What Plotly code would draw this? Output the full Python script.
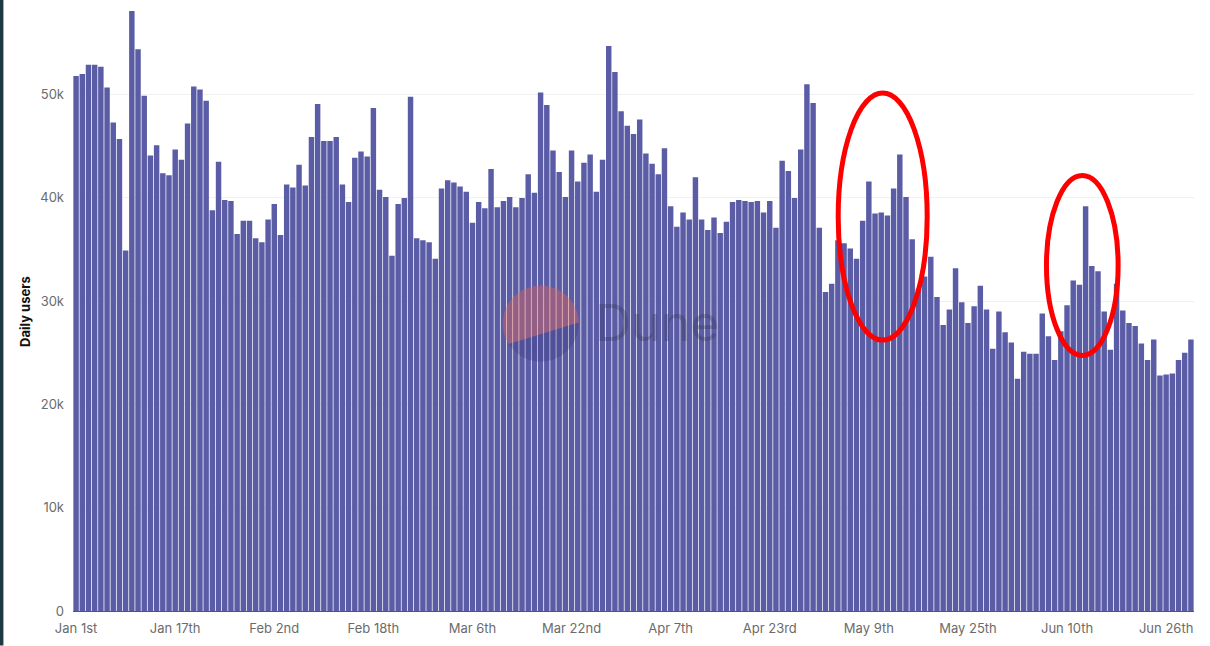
import numpy as np
import pandas as pd
import plotly.graph_objects as go

# ---------------- data ----------------
start_date = "2022-01-01"
daily_users = [
    51800, 52000, 52900, 52900, 52700, 50700, 47300, 45700, 34900, 58100,
    54400, 49900, 44100, 45100, 42400, 42200, 44700, 43700, 47200, 50800,
    50500, 49400, 38800, 43500, 39800, 39700, 36500, 37800, 37800,
    36100, 35700, 37900, 39400, 36400, 41300, 41000, 43200, 41200, 45900,
    49100, 45500, 45500, 45900, 41300, 39600, 43900, 44500, 44000, 48700,
    40800, 40100, 34400, 39400, 40000, 49800, 36100, 35900, 35700, 34100,
    40900, 41700, 41500, 41100, 40600, 37600, 39600, 39000, 42800, 39100,
    39700, 40100, 39100, 40000, 42300, 40500, 50200, 49000, 44600, 42500,
    40100, 44600, 41600, 43400, 44200, 40600, 43700, 54700, 52200, 48400,
    47000, 46200, 47600, 44300, 43300, 42300, 44800, 39200, 37200, 38600,
    37900, 42000, 37900, 36900, 38100, 36600, 37700, 39600, 39800, 39700,
    39600, 39700, 38600, 39700, 37100, 43600, 42600, 40000, 44700, 51000,
    49200, 37100, 30900, 31700, 35900, 35600, 35100, 34100, 37800, 41600,
    38500, 38600, 38300, 40900, 44200, 40100, 36000, 31200, 32400, 34300,
    30400, 27700, 29200, 33200, 29900, 27900, 29500, 31500, 29200,
    25400, 29000, 27000, 26000, 22500, 25100, 24900, 24900, 28800, 26600,
    24300, 27100, 29600, 32000, 31600, 39200, 33400, 32900, 29000, 25300,
    31700, 29100, 27900, 27600, 25900, 24300, 26300, 22800, 22900, 23000,
    24300, 25000, 26300,
]
dates = pd.date_range(start_date, periods=len(daily_users), freq="D")

x_tick_dates = ["2022-01-01", "2022-01-17", "2022-02-02", "2022-02-18",
                "2022-03-06", "2022-03-22", "2022-04-07", "2022-04-23",
                "2022-05-09", "2022-05-25", "2022-06-10", "2022-06-26"]
x_tick_labels = ["Jan 1st", "Jan 17th", "Feb 2nd", "Feb 18th", "Mar 6th",
                 "Mar 22nd", "Apr 7th", "Apr 23rd", "May 9th", "May 25th",
                 "Jun 10th", "Jun 26th"]
y_tick_vals = [0, 10000, 20000, 30000, 40000, 50000]
y_tick_labels = ["0", "10k", "20k", "30k", "40k", "50k"]

# highlight ellipses: (start day offset, end day offset, y low, y high)
highlights = [(123.05, 137.42, 26230, 50150), (156.68, 168.25, 24750, 42180)]

# ---------------- styling ----------------
W, H = 1210, 646
PL, PR, PT, PB = 73.1, 1194.4, 11.3, 611.5   # plot area in pixels
pw, ph = PR - PL, PB - PT
FONT = "Inter, 'Noto Sans', sans-serif"
BAR = "#5b5ca6"

def px2paper(x, y):
    return (x - PL) / pw, (PB - y) / ph

fig = go.Figure(go.Bar(x=dates, y=daily_users, marker=dict(color=BAR, line=dict(width=0)),
                       hoverinfo="x+y"))

shapes = []
# left dark strip
x0p, _ = px2paper(0, 0)
x1p, _ = px2paper(3.5, 0)
shapes.append(dict(type="rect", xref="paper", yref="paper", x0=x0p, x1=x1p,
                   y0=(PB - H) / ph, y1=PB / ph, fillcolor="#1d3a42", line=dict(width=0),
                   layer="above"))

# watermark logo (two halves of a circle)
cx, cy, r = 541, 324, 38
def arc_path(a0, a1):
    t = np.radians(np.linspace(a0, a1, 60))
    pts = [px2paper(cx + r * np.cos(a), cy + r * np.sin(a)) for a in t]
    return "M " + " L ".join(f"{p[0]:.5f},{p[1]:.5f}" for p in pts) + " Z"
shapes.append(dict(type="path", xref="paper", yref="paper", path=arc_path(147.5, 358.5),
                   fillcolor="rgba(240,100,80,0.38)", line=dict(width=0), layer="above"))
shapes.append(dict(type="path", xref="paper", yref="paper", path=arc_path(-1.5, 147.5),
                   fillcolor="rgba(35,40,110,0.22)", line=dict(width=0), layer="above"))

# red highlight ellipses
base = pd.Timestamp(start_date)
for d0, d1, ylo, yhi in highlights:
    shapes.append(dict(type="circle", xref="x", yref="y",
                       x0=base + pd.Timedelta(days=d0), x1=base + pd.Timedelta(days=d1),
                       y0=ylo, y1=yhi, line=dict(color="#ff0000", width=5), layer="above"))

wx, wy = px2paper(657, 323)
ax, _ = px2paper(25, 0)
annotations = [
    dict(text="Dune", xref="paper", yref="paper", x=wx, y=wy, showarrow=False,
         font=dict(family=FONT, size=50, color="rgba(45,45,70,0.28)"),
         xanchor="center", yanchor="middle"),
    dict(text="<b>Daily users</b>", xref="paper", yref="paper", x=ax, y=0.5,
         showarrow=False, textangle=-90, xanchor="center", yanchor="middle",
         font=dict(family=FONT, size=13, color="#111111")),
]

fig.update_layout(
    width=W, height=H,
    margin=dict(l=PL, r=W - PR, t=PT, b=H - PB, pad=0),
    paper_bgcolor="white", plot_bgcolor="white",
    bargap=0.12, showlegend=False,
    font=dict(family=FONT, size=13, color="#6b6b6b"),
    shapes=shapes, annotations=annotations,
)
fig.update_xaxes(
    type="date", automargin=False,
    range=[base - pd.Timedelta(hours=12), dates[-1] + pd.Timedelta(hours=12)],
    tickvals=x_tick_dates, ticktext=x_tick_labels, ticks="",
    showgrid=False, showline=True, linecolor="#4f5090", linewidth=1,
    tickfont=dict(family=FONT, size=13, color="#6b6b6b"), ticklabelstandoff=5,
)
fig.update_yaxes(
    range=[0, 58100], tickvals=y_tick_vals, ticktext=y_tick_labels, ticks="",
    automargin=False,
    showgrid=True, gridcolor="#f1f1f1", gridwidth=1, zeroline=False, showline=False,
    tickfont=dict(family=FONT, size=13, color="#6b6b6b"), ticklabelstandoff=8,
)

fig.write_html("out.html", config={"displayModeBar": False},
               post_script="document.body.style.margin='0';document.body.style.overflow='hidden';")
